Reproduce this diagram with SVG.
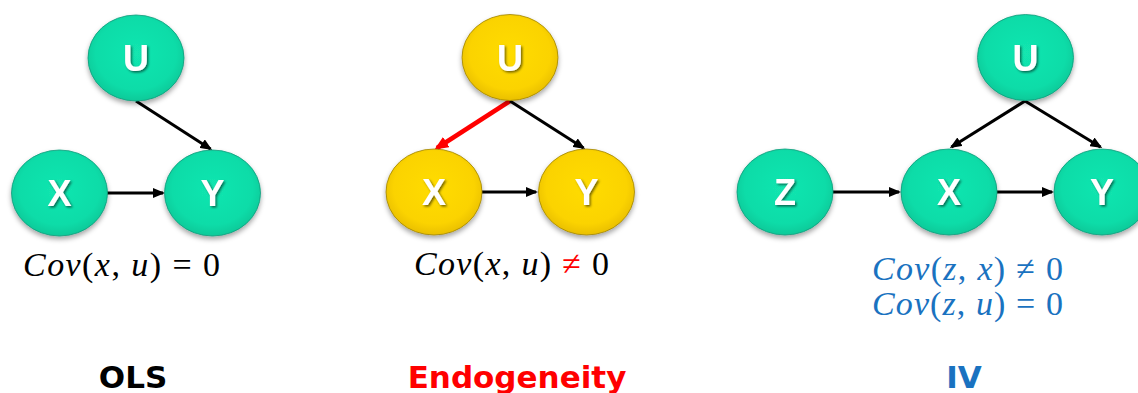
<svg xmlns="http://www.w3.org/2000/svg" width="1138" height="393" viewBox="0 0 1138 393">
<style>
.teal{fill:url(#gTeal);stroke:#0a9a7a;stroke-width:0.8;filter:url(#shadow)}
.gold{fill:url(#gGold);stroke:#a08400;stroke-width:0.8;filter:url(#shadow)}
.lbl{font-family:"Liberation Sans",Arial,sans-serif;font-weight:bold;font-size:36px;fill:#ffffff;text-anchor:middle;filter:url(#tshadow)}
.edge{stroke:#000000;stroke-width:3;fill:none;marker-end:url(#ah)}
.edgeRed{stroke:#ff0000;stroke-width:4.5;fill:none;marker-end:url(#ahRed)}
.math{font-family:"Liberation Serif","Times New Roman",serif;font-size:34px;fill:#000000}
.mathBlue{font-family:"Liberation Serif","Times New Roman",serif;font-size:34px;fill:#1a72c0}
.i{font-style:italic}
.title{font-family:"DejaVu Sans",Verdana,sans-serif;font-weight:bold;font-size:31px;text-anchor:middle}
</style>
<defs>
<radialGradient id="gTeal" cx="0.5" cy="0.45" r="0.6">
<stop offset="0" stop-color="#12e6b0"/>
<stop offset="0.7" stop-color="#0fdca8"/>
<stop offset="1" stop-color="#08c293"/>
</radialGradient>
<radialGradient id="gGold" cx="0.5" cy="0.45" r="0.6">
<stop offset="0" stop-color="#ffdc00"/>
<stop offset="0.7" stop-color="#fbd300"/>
<stop offset="1" stop-color="#e3b800"/>
</radialGradient>
<filter id="shadow" x="-20%" y="-20%" width="140%" height="150%">
<feDropShadow dx="0" dy="3" stdDeviation="2.5" flood-color="#000000" flood-opacity="0.35"/>
</filter>
<filter id="tshadow" x="-30%" y="-30%" width="160%" height="160%">
<feDropShadow dx="1.5" dy="1.5" stdDeviation="1" flood-color="#000000" flood-opacity="0.55"/>
</filter>
<marker id="ah" viewBox="0 0 12 10" refX="10" refY="5" markerWidth="12" markerHeight="10" markerUnits="userSpaceOnUse" orient="auto">
<path d="M0,0 L12,5 L0,10 z" fill="#000000"/>
</marker>
<marker id="ahRed" viewBox="0 0 14 12" refX="11" refY="6" markerWidth="14" markerHeight="12" markerUnits="userSpaceOnUse" orient="auto">
<path d="M0,0 L14,6 L0,12 z" fill="#ff0000"/>
</marker>
</defs>
<rect x="0" y="0" width="1138" height="393" fill="#ffffff"/>

<g id="connectors">
<line class="edge" x1="136" y1="101" x2="210.5" y2="149"/>
<line class="edge" x1="107" y1="193" x2="163" y2="193"/>
<line class="edgeRed" x1="510" y1="101" x2="437" y2="148"/>
<line class="edge" x1="510" y1="101" x2="583.5" y2="148"/>
<line class="edge" x1="482" y1="192" x2="536" y2="192"/>
<line class="edge" x1="1025" y1="101" x2="951.5" y2="147"/>
<line class="edge" x1="1025" y1="101" x2="1100.5" y2="147"/>
<line class="edge" x1="833" y1="192" x2="899" y2="192"/>
<line class="edge" x1="997" y1="192" x2="1052" y2="192"/>
</g>

<g id="ols-u"><ellipse class="teal" cx="136" cy="58" rx="48" ry="43"/><text class="lbl" x="136" y="71">U</text></g>
<g id="ols-x"><ellipse class="teal" cx="59.5" cy="193" rx="48" ry="43"/><text class="lbl" x="59.5" y="206">X</text></g>
<g id="ols-y"><ellipse class="teal" cx="212.5" cy="193" rx="48" ry="43"/><text class="lbl" x="212.5" y="206">Y</text></g>

<g id="endo-u"><ellipse class="gold" cx="510" cy="57.5" rx="48" ry="43"/><text class="lbl" x="510" y="71">U</text></g>
<g id="endo-x"><ellipse class="gold" cx="434" cy="192" rx="48" ry="43"/><text class="lbl" x="434" y="205">X</text></g>
<g id="endo-y"><ellipse class="gold" cx="586.5" cy="192" rx="48" ry="43"/><text class="lbl" x="586.5" y="205">Y</text></g>

<g id="iv-u"><ellipse class="teal" cx="1025.5" cy="57.5" rx="48" ry="43"/><text class="lbl" x="1025.5" y="71">U</text></g>
<g id="iv-z"><ellipse class="teal" cx="785" cy="192" rx="48" ry="43"/><text class="lbl" x="785" y="205">Z</text></g>
<g id="iv-x"><ellipse class="teal" cx="949" cy="192" rx="48" ry="43"/><text class="lbl" x="949" y="205">X</text></g>
<g id="iv-y"><ellipse class="teal" cx="1102" cy="192" rx="48" ry="43"/><text class="lbl" x="1102" y="205">Y</text></g>

<g id="ols-text">
<text class="math" x="23" y="276" textLength="197" lengthAdjust="spacing"><tspan class="i">Cov</tspan>(<tspan class="i">x</tspan>, <tspan class="i">u</tspan>) = 0</text>
<text class="title" x="133" y="388" fill="#000000">OLS</text>
</g>
<g id="endo-text">
<text class="math" x="414" y="275" textLength="195" lengthAdjust="spacing"><tspan class="i">Cov</tspan>(<tspan class="i">x</tspan>, <tspan class="i">u</tspan>) <tspan fill="#ff0000">≠</tspan> 0</text>
<text class="title" x="517" y="388" fill="#ff0000">Endogeneity</text>
</g>
<g id="iv-text">
<text class="mathBlue" x="872" y="280" textLength="191" lengthAdjust="spacing"><tspan class="i">Cov</tspan>(<tspan class="i">z</tspan>, <tspan class="i">x</tspan>) ≠ 0</text>
<text class="mathBlue" x="872" y="315" textLength="191" lengthAdjust="spacing"><tspan class="i">Cov</tspan>(<tspan class="i">z</tspan>, <tspan class="i">u</tspan>) = 0</text>
<text class="title" x="964" y="388" fill="#1a72c0">IV</text>
</g>
</svg>
